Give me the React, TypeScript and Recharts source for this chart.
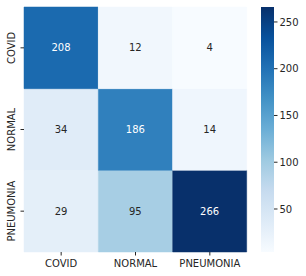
import { BarChart, Bar, XAxis, YAxis, Cell, LabelList } from "recharts";

const classes = ["COVID", "NORMAL", "PNEUMONIA"];
// rows = true label, columns = predicted label
const rowCovid = [208, 12, 4];
const rowNormal = [34, 186, 14];
const rowPneumonia = [29, 95, 266];
const rowTicks = [2.5, 1.5, 0.5];
const colorbarTicks = [50, 100, 150, 200, 250];
const vmin = 4;
const vmax = 266;

const blues = ["#f7fbff", "#deebf7", "#c6dbef", "#9ecae1", "#6baed6", "#4292c6", "#2171b5", "#08519c", "#08306b"];
const font = "'DejaVu Sans', sans-serif";
const ink = "#262626";

const hex = (h: string) => [1, 3, 5].map((i) => parseInt(h.slice(i, i + 2), 16));

function rgbFor(v: number) {
  const t = Math.min(1, Math.max(0, (v - vmin) / (vmax - vmin))) * (blues.length - 1);
  const i = Math.min(blues.length - 2, Math.floor(t));
  const f = t - i;
  const a = hex(blues[i]);
  const b = hex(blues[i + 1]);
  return a.map((c, k) => Math.round(c + (b[k] - c) * f));
}

const colorFor = (v: number) => `rgb(${rgbFor(v).join(",")})`;

function textColor(v: number) {
  const lin = rgbFor(v).map((c) => {
    const s = c / 255;
    return s <= 0.03928 ? s / 12.92 : Math.pow((s + 0.055) / 1.055, 2.4);
  });
  const lum = 0.2126 * lin[0] + 0.7152 * lin[1] + 0.0722 * lin[2];
  return lum > 0.408 ? ink : "#ffffff";
}

const data = classes.map((name, i) => ({
  name,
  pneumonia: 1,
  normal: 1,
  covid: 1,
  pneumoniaVal: rowPneumonia[i],
  normalVal: rowNormal[i],
  covidVal: rowCovid[i],
}));

const CellLabel = (p: any) => {
  const v = Number(p.value);
  return (
    <text
      x={p.x + p.width / 2}
      y={p.y + p.height / 2}
      dy={3.6}
      textAnchor="middle"
      fontSize={10}
      fontFamily={font}
      fill={textColor(v)}
    >
      {v}
    </text>
  );
};

const RowTick = (p: any) => {
  const label = classes[rowTicks.indexOf(p.payload.value)];
  return (
    <text
      transform={`translate(${p.x},${p.y}) rotate(-90)`}
      textAnchor="middle"
      fontSize={10}
      fontFamily={font}
      fill={ink}
    >
      {label}
    </text>
  );
};

const rows = [
  { key: "pneumonia", vals: rowPneumonia },
  { key: "normal", vals: rowNormal },
  { key: "covid", vals: rowCovid },
];

export default function App() {
  return (
    <div style={{ position: "absolute", left: 0, top: 0, width: 306, height: 276, background: "#fff" }}>
      <div style={{ position: "absolute", left: 0, top: 0 }}>
        <BarChart width={306} height={276} data={data} margin={{ top: 7, right: 59, bottom: 0, left: 0 }} barCategoryGap={0}>
          <XAxis
            dataKey="name"
            height={24}
            axisLine={false}
            tickSize={3.5}
            tickMargin={4}
            tickLine={{ stroke: ink }}
            tick={{ fill: ink, fontSize: 10, fontFamily: font }}
            interval={0}
          />
          <YAxis
            type="number"
            domain={[0, 3]}
            ticks={rowTicks}
            width={24}
            axisLine={false}
            tickSize={3.5}
            tickMargin={5.8}
            tickLine={{ stroke: ink }}
            tick={<RowTick />}
            interval={0}
          />
          {rows.map((r) => (
            <Bar key={r.key} dataKey={r.key} stackId="cm" isAnimationActive={false}>
              {r.vals.map((v, i) => (
                <Cell key={i} fill={colorFor(v)} stroke={colorFor(v)} strokeWidth={0.5} />
              ))}
              <LabelList dataKey={`${r.key}Val`} content={<CellLabel />} />
            </Bar>
          ))}
        </BarChart>
      </div>
      <div style={{ position: "absolute", left: 261, top: 0 }}>
        <BarChart
          width={45}
          height={276}
          data={[{ name: "cb", range: [vmin, vmax] }]}
          margin={{ top: 7, right: 0, bottom: 24, left: 0 }}
          barCategoryGap={0}
        >
          <defs>
            <linearGradient id="bluesBar" x1="0" y1="1" x2="0" y2="0">
              {blues.map((c, i) => (
                <stop key={i} offset={`${(i / (blues.length - 1)) * 100}%`} stopColor={c} />
              ))}
            </linearGradient>
          </defs>
          <XAxis dataKey="name" hide />
          <YAxis
            orientation="right"
            type="number"
            domain={[vmin, vmax]}
            ticks={colorbarTicks}
            width={32}
            axisLine={false}
            tickSize={3.5}
            tickMargin={2}
            tickLine={{ stroke: ink }}
            tick={{ fill: ink, fontSize: 10, fontFamily: font }}
            interval={0}
          />
          <Bar dataKey="range" fill="url(#bluesBar)" isAnimationActive={false} />
        </BarChart>
      </div>
    </div>
  );
}
